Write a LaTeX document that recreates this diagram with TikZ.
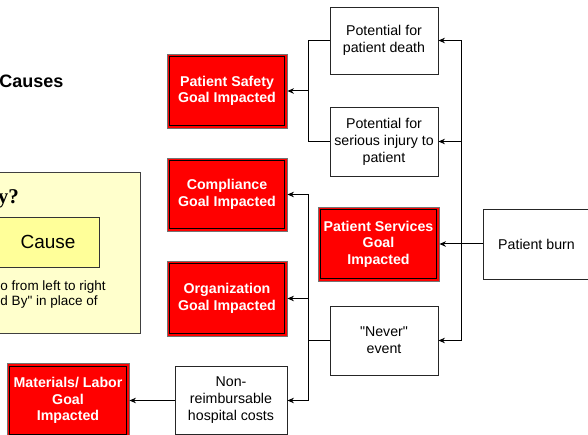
\documentclass[tikz,border=0pt]{standalone}
\usepackage{fontspec}
\setmainfont{Liberation Sans}
\newfontfamily\whyfont{Liberation Serif}
\usetikzlibrary{arrows.meta}
\definecolor{notefill}{HTML}{FFFFCC}
\definecolor{causefill}{HTML}{FFFF99}

\begin{document}
\begin{tikzpicture}[x=1pt, y=-1pt, line width=1pt,
    >={Stealth[length=6.5pt, width=5.5pt]},
    effect/.style={draw=black!85, line width=0.9pt, fill=white, align=center, inner sep=0pt,
      font=\fontsize{14.2}{17}\selectfont},
    goal/.style={draw=black!55, line width=0.9pt, fill=red, text=white, align=center, inner sep=0pt,
      font=\fontsize{14.2}{16.5}\selectfont\bfseries,
      path picture={\draw[black, line width=1.1pt]
        ([shift={(2.6pt,-2.6pt)}]path picture bounding box.north west) rectangle
        ([shift={(-2.6pt,2.6pt)}]path picture bounding box.south east);}}]
  \useasboundingbox (0,0) rectangle (588,435);

  % Legende links (abgeschnitten)
  \node[anchor=east, inner sep=0pt, font=\bfseries\fontsize{18}{21}\selectfont] (title) at (64,81) {Causes};
  \node[draw=black!75, line width=0.9pt, fill=notefill, minimum width=150pt, minimum height=161pt, inner sep=0pt] (whybox) at (65,252.5) {};
  \node[anchor=base east, inner sep=0pt, font=\whyfont\bfseries\fontsize{21}{24}\selectfont] (why) at (19.5,204) {y?};
  \node[draw=black!80, line width=0.9pt, fill=causefill, minimum width=102pt, minimum height=50pt, inner sep=0pt,
    font=\fontsize{19}{22}\selectfont] (causebox) at (48,242) {Cause};
  \node[anchor=base west, inner sep=0pt, font=\fontsize{13.5}{15.5}\selectfont] (note1) at (0,290) {o from left to right};
  \node[anchor=base west, inner sep=0pt, font=\fontsize{13.5}{15.5}\selectfont] (note2) at (0,305) {d By\textquotedbl{} in place of};

  % Ziele (rot)
  \node[goal, minimum width=120pt, minimum height=74pt] (safety) at (227,91) {Patient Safety\\Goal Impacted};
  \node[goal, minimum width=120pt, minimum height=73pt] (compliance) at (227,194.5) {Compliance\\Goal Impacted};
  \node[goal, minimum width=120pt, minimum height=75pt] (organization) at (227,298.5) {Organization\\Goal Impacted};
  \node[goal, minimum width=122pt, minimum height=74pt] (materials) at (68,400.5) {Materials/ Labor\\Goal\\Impacted};
  \node[goal, minimum width=121pt, minimum height=74pt] (services) at (378.5,244) {Patient Services\\Goal\\Impacted};

  % Folgen (weiss)
  \node[effect, minimum width=108pt, minimum height=67pt] (death) at (384,40.5) {Potential for\\patient death};
  \node[effect, minimum width=108pt, minimum height=69pt] (injury) at (384,141.5) {Potential for\\serious injury to\\patient};
  \node[effect, minimum width=108pt, minimum height=69pt] (never) at (384,340.5) {\textquotedbl Never\textquotedbl\\event};
  \node[effect, minimum width=112pt, minimum height=68pt] (costs) at (231,400.5) {Non-\\reimbursable\\hospital costs};
  \node[effect, minimum width=107pt, minimum height=70pt] (burn) at (536.5,244) {Patient burn};

  % Verbindungen
  \coordinate (rj) at (461,244);
  \coordinate (lj1) at (308,91);
  \coordinate (lj2) at (308,340.5);
  \draw[->] (burn) -- (services);
  \draw[->] (rj) |- (death);
  \draw[->] (rj) |- (injury);
  \draw[->] (rj) |- (never);
  \draw (death) -| (lj1);
  \draw (injury) -| (lj1);
  \draw[->] (lj1) -- (safety);
  \draw (never) -- (lj2);
  \draw[->] (lj2) |- (compliance);
  \draw[->] (lj2) |- (organization);
  \draw[->] (lj2) |- (costs);
  \draw[->] (costs) -- (materials);
\end{tikzpicture}
\end{document}
